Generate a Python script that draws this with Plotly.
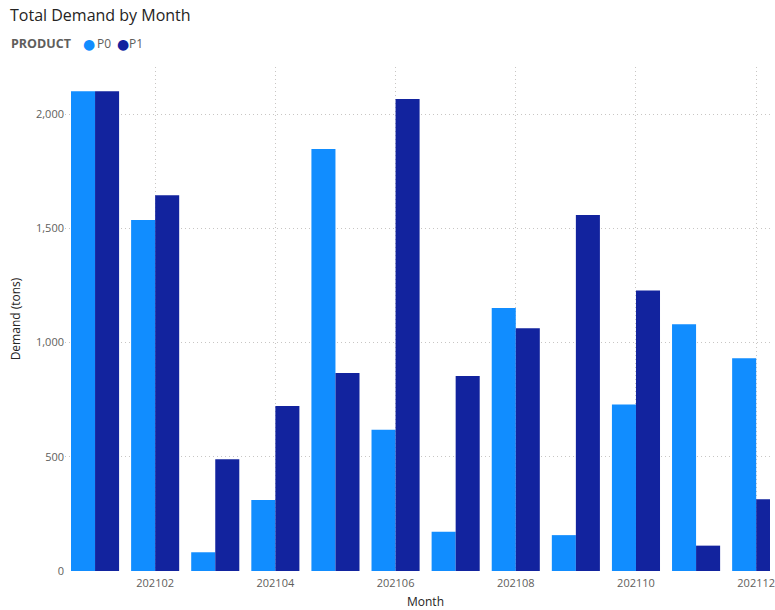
import plotly.graph_objects as go

months = ["202101", "202102", "202103", "202104", "202105", "202106",
          "202107", "202108", "202109", "202110", "202111", "202112"]
p0 = [2100, 1536, 82, 311, 1847, 618, 172, 1151, 157, 729, 1080, 931]
p1 = [2100, 1645, 489, 722, 867, 2066, 853, 1063, 1558, 1228, 111, 314]
series_names = ["P0", "P1"]
series_colors = ["#118DFF", "#12239E"]
tick_months = ["202102", "202104", "202106", "202108", "202110", "202112"]
y_ticks = [0, 500, 1000, 1500, 2000]

FONT = "Segoe UI, Open Sans, sans-serif"
W, H = 775, 610
ML, MT, MB = 65, 67, 39
PW = W - ML
PH = H - MT - MB

fig = go.Figure()
for name, vals, col in zip(series_names, [p0, p1], series_colors):
    fig.add_trace(go.Bar(x=months, y=vals, name=name, marker_color=col,
                         marker_line_width=0, showlegend=False))


def px_x(px):
    return (px - ML) / PW


def px_y(py):
    return (H - MB - py) / PH


annotations = [
    dict(text="<b>PRODUCT</b>", xref="paper", yref="paper", x=px_x(9), y=px_y(44),
         xanchor="left", yanchor="middle", showarrow=False,
         font=dict(family=FONT, size=12.5, color="#605E5C")),
]
legend_x = [(81, 95), (115, 127)]
for (cx, tx), n, c in zip(legend_x, series_names, series_colors):
    annotations.append(dict(text="●", xref="paper", yref="paper", x=px_x(cx), y=px_y(44.5),
                            xanchor="left", yanchor="middle", showarrow=False,
                            font=dict(family="DejaVu Sans", size=14, color=c)))
    annotations.append(dict(text=n, xref="paper", yref="paper", x=px_x(tx), y=px_y(44),
                            xanchor="left", yanchor="middle", showarrow=False,
                            font=dict(family=FONT, size=12, color="#605E5C")))
annotations.append(dict(text="Month", xref="x", yref="paper", x=5.5, y=px_y(601),
                        xanchor="center", yanchor="middle", showarrow=False,
                        font=dict(family=FONT, size=12, color="#252423")))

fig.update_layout(
    width=W, height=H,
    margin=dict(l=ML, r=0, t=MT, b=MB),
    plot_bgcolor="white", paper_bgcolor="white",
    barmode="group", bargap=0.2, bargroupgap=0,
    font=dict(family=FONT, color="#605E5C", size=11),
    title=dict(text="Total Demand by Month", xref="container", yref="container",
               x=10/W, xanchor="left", y=1-15/H, yanchor="middle",
               font=dict(family=FONT, size=16, color="#252423")),
    annotations=annotations,
    xaxis=dict(type="category", categoryorder="array", categoryarray=months,
               range=[-0.5, 11.23], tickvals=tick_months, ticktext=tick_months,
               showgrid=True, gridcolor="#C8C6C4", griddash="1px,3px", gridwidth=1,
               showline=False, ticks="", ticklabelstandoff=4,
               tickfont=dict(size=11, color="#605E5C")),
    yaxis=dict(range=[0, 2206], tickvals=y_ticks, tickformat=",d",
               showgrid=True, gridcolor="#C8C6C4", griddash="1px,3px", gridwidth=1,
               zeroline=False, showline=False, ticks="",
               title=dict(text="Demand (tons)", standoff=12,
                          font=dict(family=FONT, size=12, color="#252423")),
               tickfont=dict(size=11, color="#605E5C")),
)

fig.write_html("out.html")
